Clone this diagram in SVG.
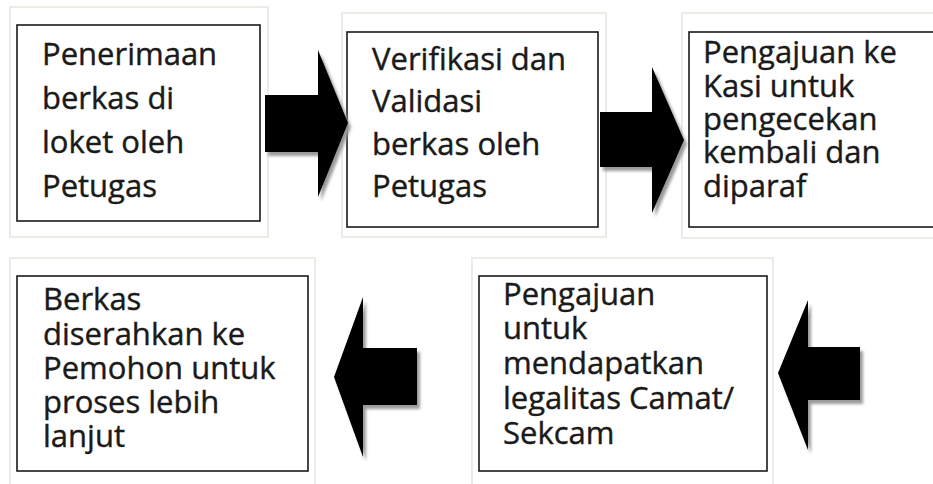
<svg xmlns="http://www.w3.org/2000/svg" width="933" height="484" viewBox="0 0 933 484">
<defs>
<style>
.frame{fill:#ffffff;stroke:#ecebe6;stroke-width:2}
.box{fill:#ffffff;stroke:#1a1a1a;stroke-width:1.6}
.t{font-family:"Open Sans","Noto Sans",sans-serif;font-size:31px;fill:#1a1a1a;stroke:#1a1a1a;stroke-width:0.4}
.arrow{fill:#000000}
.shadow{fill:#9a9a9a;filter:url(#blur)}
</style>
<filter id="blur" x="-20%" y="-20%" width="140%" height="140%"><feGaussianBlur stdDeviation="1.5"/></filter>
</defs>
<rect width="933" height="484" fill="#ffffff"/>
<g id="node1">
<rect class="frame" x="10" y="7" width="258" height="230"/>
<rect class="box" x="17" y="25" width="243" height="196"/>
<text class="t"><tspan x="42" y="65">Penerimaan</tspan><tspan x="42" y="109">berkas di</tspan><tspan x="42" y="153">loket oleh</tspan><tspan x="42" y="197">Petugas</tspan></text>
</g>
<g id="node2">
<rect class="frame" x="342" y="13" width="264" height="224"/>
<rect class="box" x="347" y="32" width="251" height="195"/>
<text class="t"><tspan x="372" y="70">Verifikasi dan</tspan><tspan x="372" y="112">Validasi</tspan><tspan x="372" y="155">berkas oleh</tspan><tspan x="372" y="197">Petugas</tspan></text>
</g>
<g id="node3">
<rect class="frame" x="682" y="13" width="260" height="225"/>
<rect class="box" x="689" y="32" width="250" height="195"/>
<text class="t"><tspan x="703" y="63">Pengajuan ke</tspan><tspan x="703" y="97">Kasi untuk</tspan><tspan x="703" y="130">pengecekan</tspan><tspan x="703" y="163">kembali dan</tspan><tspan x="703" y="197">diparaf</tspan></text>
</g>
<g id="node4">
<rect class="frame" x="472" y="258" width="301" height="235"/>
<rect class="box" x="479" y="276" width="288" height="195"/>
<text class="t"><tspan x="503" y="305">Pengajuan</tspan><tspan x="503" y="339">untuk</tspan><tspan x="503" y="374">mendapatkan</tspan><tspan x="503" y="409">legalitas Camat/</tspan><tspan x="503" y="444">Sekcam</tspan></text>
</g>
<g id="node5">
<rect class="frame" x="10" y="258" width="305" height="235"/>
<rect class="box" x="17" y="276" width="291" height="195"/>
<text class="t"><tspan x="43" y="310">Berkas</tspan><tspan x="43" y="345">diserahkan ke</tspan><tspan x="43" y="379">Pemohon untuk</tspan><tspan x="43" y="413">proses lebih</tspan><tspan x="43" y="447">lanjut</tspan></text>
</g>
<g id="connectors">
<polygon class="shadow" transform="translate(3,4)" points="265,95 318,95 318,50 348,123 318,197 318,152 265,152"/>
<polygon class="arrow" points="265,95 318,95 318,50 348,123 318,197 318,152 265,152"/>
<polygon class="shadow" transform="translate(3,4)" points="600,112 652,112 652,67 684,140 652,213 652,167 600,167"/>
<polygon class="arrow" points="600,112 652,112 652,67 684,140 652,213 652,167 600,167"/>
<polygon class="shadow" transform="translate(3,4)" points="860,347 808,347 808,300 778,373 808,450 808,400 860,400"/>
<polygon class="arrow" points="860,347 808,347 808,300 778,373 808,450 808,400 860,400"/>
<polygon class="shadow" transform="translate(3,4)" points="417,348 363,348 363,297 334,377 363,457 363,405 417,405"/>
<polygon class="arrow" points="417,348 363,348 363,297 334,377 363,457 363,405 417,405"/>
</g>
</svg>
